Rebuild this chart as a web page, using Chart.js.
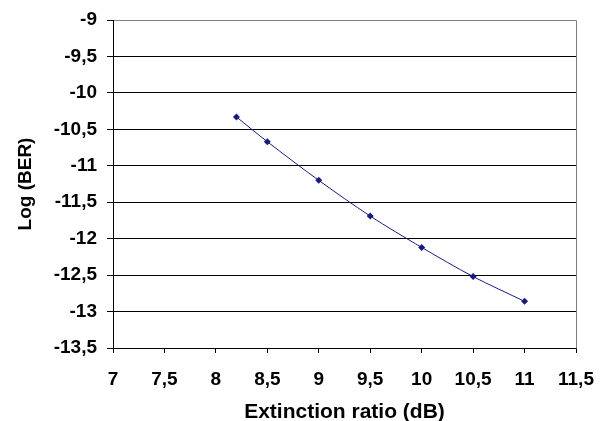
<!DOCTYPE html>
<html>
<head>
<meta charset="utf-8">
<script src="https://cdn.jsdelivr.net/npm/chart.js@4.4.0/dist/chart.umd.min.js"></script>
<style>
  html, body { margin: 0; padding: 0; background: #fff; }
  #wrap { width: 605px; height: 421px; }
</style>
</head>
<body>
<div id="wrap"><canvas id="ber-chart"></canvas></div>
<script>
// Extinction ratio vs Log(BER)
const extinctionRatio = [8.2, 8.5, 9, 9.5, 10, 10.5, 11];
const logBer = [-10.33, -10.67, -11.2, -11.69, -12.12, -12.52, -12.86];

const font = { family: '"Liberation Sans", Arial, sans-serif', size: 19, weight: 'bold' };
const comma = v => String(v).replace('.', ',');

// gray frame around the plot area (Excel style)
const plotFrame = {
  id: 'plotFrame',
  afterDraw(chart) {
    const { ctx, chartArea: a } = chart;
    ctx.save();
    ctx.strokeStyle = '#808080';
    ctx.lineWidth = 1;
    ctx.beginPath();
    ctx.moveTo(Math.round(a.left) + 0.5, Math.round(a.top) + 0.5);
    ctx.lineTo(Math.round(a.right) + 0.5, Math.round(a.top) + 0.5);
    ctx.lineTo(Math.round(a.right) + 0.5, Math.round(a.bottom) + 0.5);
    ctx.stroke();
    ctx.strokeStyle = '#000';
    ctx.beginPath();
    ctx.moveTo(Math.round(a.left) + 0.5, Math.round(a.top));
    ctx.lineTo(Math.round(a.left) + 0.5, Math.round(a.bottom) + 1);
    ctx.stroke();
    ctx.restore();
  }
};

new Chart(document.getElementById('ber-chart'), {
  type: 'line',
  data: {
    datasets: [{
      data: extinctionRatio.map((x, i) => ({ x: x, y: logBer[i] })),
      borderColor: '#1a1a80',
      backgroundColor: '#1a1a80',
      borderWidth: 1,
      tension: 0.3,
      pointStyle: 'rectRot',
      pointRadius: 3.5,
      pointBorderWidth: 0,
    }]
  },
  options: {
    responsive: true, maintainAspectRatio: false,
    animation: false,
    layout: { padding: { top: 20, right: 29, left: 0, bottom: 0 } },
    scales: {
      x: {
        type: 'linear', min: 7, max: 11.5,
        afterFit: s => { s.height = 73; s.paddingRight = 0; s.paddingLeft = 0; },
        border: { display: true, color: '#000' },
        grid: { drawOnChartArea: false, color: '#000', tickLength: 5 },
        ticks: { stepSize: 0.5, color: '#000', font: font, padding: 15, maxRotation: 0, callback: comma },
        title: { display: true, text: 'Extinction ratio (dB)', color: '#000', font: { ...font, size: 21 }, padding: { top: 4, bottom: -4 } },
      },
      y: {
        min: -13.5, max: -9,
        afterFit: s => { s.width = 113; s.paddingTop = 0; s.paddingBottom = 0; },
        border: { display: false },
        grid: { color: '#000', tickLength: 6 },
        ticks: { stepSize: 0.5, color: '#000', font: font, padding: 10, callback: comma },
        title: { display: true, text: 'Log (BER)', color: '#000', font: font, padding: { top: 14, bottom: 0 } },
      }
    },
    plugins: { legend: { display: false }, tooltip: { enabled: false } }
  },
  plugins: [plotFrame]
});
</script>
</body>
</html>
